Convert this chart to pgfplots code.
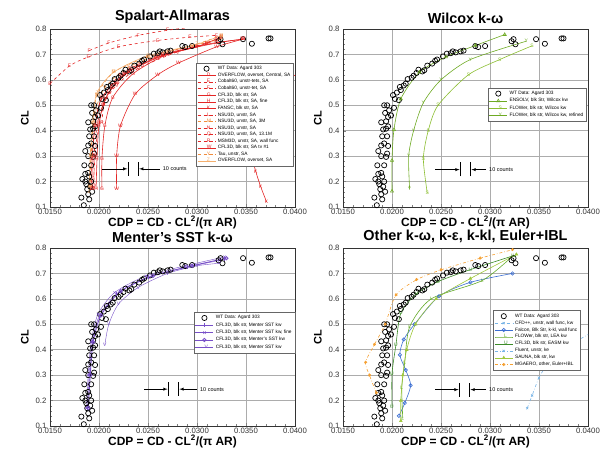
\documentclass[border=0pt]{standalone}
\usepackage{fontspec}
\setmainfont{Liberation Sans}
\usepackage{pgfplots}
\pgfplotsset{compat=1.18}
\usepackage{pgfplotstable}

\definecolor{sared}{RGB}{228,38,38}
\definecolor{saorange}{RGB}{240,140,60}
\definecolor{salight}{RGB}{245,175,110}
\definecolor{wgreen}{RGB}{110,170,35}
\definecolor{wgreenb}{RGB}{140,190,50}
\definecolor{sstpurple}{RGB}{120,80,200}
\definecolor{oblue}{RGB}{60,110,210}
\definecolor{olight}{RGB}{120,180,230}
\definecolor{ogreen}{RGB}{100,170,40}
\definecolor{ogreend}{RGB}{60,140,40}
\definecolor{ogreenl}{RGB}{160,200,60}
\definecolor{oorange}{RGB}{245,160,50}

\pgfplotstableread{
x y
0.01845 0.107
0.0182 0.137
0.0190 0.130
0.0189 0.150
0.0188 0.170
0.0191 0.180
0.0193 0.160
0.0183 0.210
0.0186 0.200
0.0187 0.190
0.0189 0.234
0.0192 0.200
0.0186 0.230
0.0190 0.220
0.0185 0.264
0.0192 0.264
0.0194 0.297
0.0189 0.300
0.0195 0.310
0.0186 0.320
0.0189 0.342
0.0192 0.350
0.0196 0.340
0.0190 0.378
0.0195 0.378
0.0191 0.405
0.0194 0.408
0.0196 0.417
0.0189 0.433
0.0194 0.437
0.0196 0.454
0.0193 0.470
0.0197 0.480
0.0192 0.500
0.0195 0.500
0.0199 0.460
0.0202 0.490
0.0203 0.525
0.0201 0.540
0.0207 0.520
0.0205 0.550
0.0209 0.560
0.0208 0.572
0.0212 0.578
0.0214 0.585
0.0216 0.603
0.0220 0.608
0.0222 0.616
0.0225 0.627
0.0227 0.640
0.0231 0.633
0.0233 0.638
0.0236 0.656
0.0241 0.664
0.0244 0.675
0.0246 0.680
0.0252 0.692
0.0256 0.703
0.0260 0.705
0.0262 0.712
0.0265 0.708
0.0270 0.712
0.0273 0.715
0.0285 0.733
0.0288 0.729
0.0295 0.733
0.0322 0.752
0.0324 0.760
0.0326 0.740
0.0347 0.760
0.0356 0.742
0.0373 0.763
0.0375 0.763
}\wtdata

\pgfplotsset{
 panel/.style={
  scale only axis, width=245bp, height=178bp,
  xmin=0.015, xmax=0.04, ymin=0.1, ymax=0.8,
  scaled x ticks=false, scaled y ticks=false,
  xtick={0.015,0.02,0.025,0.03,0.035,0.04},
  xticklabels={0.0150,0.0200,0.0250,0.0300,0.0350,0.0400},
  ytick={0.1,0.2,0.3,0.4,0.5,0.6,0.7,0.8},
  yticklabels={0.1,0.2,0.3,0.4,0.5,0.6,0.7,0.8},
  grid=major, major grid style={gray!65, line width=0.45pt},
  minor x tick num=4, minor y tick num=4,
  tick align=inside, xtick pos=left, ytick pos=left,
  major tick length=3bp, minor tick length=1.8bp,
  tick label style={font=\fontsize{7.8}{8}\selectfont, text=black!80},
  xticklabel style={yshift=1.5bp},
  title style={font=\bfseries\fontsize{14.5}{15}\selectfont, yshift=-4bp},
  xlabel={CDP = CD - CL\textsuperscript{2}/(π AR)},
  ylabel={CL},
  xlabel style={font=\bfseries\fontsize{12}{13}\selectfont, yshift=5bp},
  ylabel style={font=\bfseries\fontsize{11}{12}\selectfont},
  axis line style={black!80},
  legend cell align=left,
  legend style={font=\fontsize{4.8}{5}\selectfont, draw=black!60, fill=white, inner sep=1.2bp, row sep=-1.6bp},
  legend image code/.code={\draw[mark repeat=2,mark phase=2] plot coordinates {(0bp,0bp)(9bp,0bp)(18bp,0bp)};},
 },
 wt/.style={only marks, mark=o, mark size=2.6bp, black, line width=0.7bp},
 tm/.style={mark=text, text mark={#1}, text mark as node=true, text mark style={font=\fontsize{5}{5}\selectfont, inner sep=0pt}},
 cv/.style={line width=0.6bp, smooth, tension=0.45},
}

\begin{document}
\begin{tikzpicture}
\path[use as bounding box] (0,0) rectangle (608bp,452bp);

% ---------------- Spalart-Allmaras
\begin{axis}[panel, at={(50bp,245bp)}, anchor=south west, title={Spalart-Allmaras},
  legend style={at={(0.995,0.81)}, anchor=north east, row sep=-2.3bp}]
\addplot[wt] table {\wtdata}; \addlegendentry{WT Data: Agard 303}
\addplot[cv, sared, tm=D] coordinates {(0.0193,0.17)(0.0193,0.29)(0.0196,0.42)(0.0203,0.53)(0.0225,0.62)(0.0260,0.69)(0.0300,0.73)(0.0325,0.77)};
\addlegendentry{OVERFLOW, overset, Central, SA}
\addplot[cv, sared, dashed, tm=E] coordinates {(0.0150,0.585)(0.0170,0.655)(0.0189,0.69)(0.0220,0.73)(0.0260,0.755)(0.0293,0.768)(0.0320,0.775)};
\addlegendentry{Cobalt60, unstr-tets, SA}
\addplot[cv, sared, dashed, tm=F] coordinates {(0.0190,0.715)(0.0210,0.745)(0.0240,0.775)(0.0270,0.795)(0.0290,0.805)};
\addlegendentry{Cobalt60, unstr-tet, SA}
\addplot[cv, sared, tm=G] coordinates {(0.0203,0.17)(0.0203,0.29)(0.0206,0.42)(0.0214,0.53)(0.0235,0.625)(0.0270,0.70)(0.0320,0.745)(0.0347,0.76)};
\addlegendentry{CFL3D, blk str, SA}
\addplot[cv, sared, tm=H] coordinates {(0.0197,0.17)(0.0198,0.29)(0.0200,0.42)(0.0207,0.53)(0.0228,0.625)(0.0265,0.695)(0.0310,0.74)(0.0347,0.76)};
\addlegendentry{CFL3D, blk str, SA, fine}
\addplot[cv, sared, tm=K] coordinates {(0.0371,0.12)(0.0365,0.18)(0.0360,0.24)(0.0357,0.30)(0.0362,0.45)(0.0378,0.56)(0.0405,0.63)};
\addlegendentry{FANSC, blk str, SA}
\addplot[cv, sared, dashed, tm=L] coordinates {(0.0192,0.17)(0.0193,0.29)(0.0196,0.42)(0.0202,0.52)(0.0222,0.62)(0.0258,0.69)(0.0300,0.735)(0.0325,0.765)};
\addlegendentry{NSU3D, unstr, SA}
\addplot[cv, saorange, dashed, tm=M] coordinates {(0.0191,0.18)(0.0192,0.30)(0.0194,0.43)(0.0198,0.54)(0.0215,0.63)(0.0250,0.69)(0.0295,0.735)(0.0325,0.775)};
\addlegendentry{NSU3D, unstr, SA, 3M}
\addplot[cv, sared, dashed, tm=N] coordinates {(0.0194,0.17)(0.0196,0.30)(0.0200,0.43)(0.0210,0.55)(0.0230,0.63)(0.0265,0.695)(0.0310,0.74)};
\addlegendentry{NSU3D, unstr, SA}
\addplot[cv, sared, dashed, tm=Q] coordinates {(0.0195,0.18)(0.0195,0.30)(0.0198,0.42)(0.0204,0.50)(0.0218,0.58)(0.0240,0.645)(0.0280,0.71)(0.0320,0.755)};
\addlegendentry{NSU3D, unstr, SA, 13.1M}
\addplot[cv, sared, dashed, tm=R] coordinates {(0.0203,0.43)(0.0205,0.50)(0.0213,0.57)(0.0232,0.645)(0.0265,0.70)(0.0310,0.74)};
\addlegendentry{MSM3D, unstr, SA, wall func}
\addplot[cv, sared, tm=W] coordinates {(0.0218,0.17)(0.0218,0.30)(0.0222,0.42)(0.0237,0.544)(0.0260,0.62)(0.0281,0.666)(0.0320,0.73)(0.0347,0.76)};
\addlegendentry{CFL3D, blk str, SA tv \#1}
\addplot[cv, saorange, dashed, tm=Y] coordinates {(0.0191,0.20)(0.0192,0.32)(0.0196,0.47)(0.0206,0.57)(0.0230,0.65)(0.0270,0.71)(0.0325,0.76)};
\addlegendentry{Tau, unstr, SA}
\addplot[cv, salight, tm=Z] coordinates {(0.0190,0.16)(0.0191,0.30)(0.0194,0.45)(0.0198,0.55)(0.0215,0.63)(0.0250,0.695)(0.0300,0.74)(0.0325,0.775)};
\addlegendentry{OVERFLOW, overset, SA}
\draw[black, line width=0.5bp] (axis cs:0.0230,0.222) -- (axis cs:0.0230,0.278) (axis cs:0.0240,0.222) -- (axis cs:0.0240,0.278);
\draw[-latex, line width=0.5bp] (axis cs:0.0203,0.25) -- (axis cs:0.0229,0.25);
\draw[-latex, line width=0.5bp] (axis cs:0.0262,0.25) -- (axis cs:0.0241,0.25);
\node[anchor=west, font=\fontsize{5.5}{6}\selectfont, inner sep=1bp] at (axis cs:0.0264,0.25) {10 counts};
\end{axis}

% ---------------- Wilcox
\begin{axis}[panel, at={(343bp,245bp)}, anchor=south west, title={Wilcox k-ω},
  legend style={at={(0.995,0.67)}, anchor=north east}]
\addplot[wt] table {\wtdata}; \addlegendentry{WT Data: Agard 303}
\addplot[cv, wgreen, mark=triangle, mark size=1.8bp] coordinates {(0.0200,0.162)(0.0200,0.283)(0.0202,0.404)(0.0209,0.525)(0.0228,0.63)(0.0255,0.69)(0.0285,0.735)(0.0315,0.778)};
\addlegendentry{ENSOLV, blk Str, Wilcox kw}
\addplot[cv, wgreenb, tm=S] coordinates {(0.0236,0.155)(0.0232,0.29)(0.0237,0.40)(0.0247,0.50)(0.0278,0.62)(0.0310,0.68)(0.0343,0.734)};
\addlegendentry{FLOWer, blk str, Wilcox kw}
\addplot[cv, wgreen, tm=Y] coordinates {(0.0218,0.17)(0.0217,0.30)(0.0222,0.40)(0.0232,0.51)(0.0250,0.60)(0.0280,0.68)(0.0337,0.752)};
\addlegendentry{FLOWer, blk str, Wilcox kw, refined}
\draw[black, line width=0.5bp] (axis cs:0.0270,0.22) -- (axis cs:0.0270,0.275) (axis cs:0.0280,0.22) -- (axis cs:0.0280,0.275);
\draw[-latex, line width=0.5bp] (axis cs:0.0244,0.247) -- (axis cs:0.0269,0.247);
\draw[-latex, line width=0.5bp] (axis cs:0.0296,0.247) -- (axis cs:0.0281,0.247);
\node[anchor=west, font=\fontsize{5.5}{6}\selectfont, inner sep=1bp] at (axis cs:0.0298,0.247) {10 counts};
\end{axis}

% ---------------- Menter SST
\begin{axis}[panel, at={(50bp,26bp)}, anchor=south west, title={Menter's SST k-ω},
  legend style={at={(1.0,0.64)}, anchor=north east}]
\addplot[wt] table {\wtdata}; \addlegendentry{WT Data: Agard 303}
\addplot[cv, sstpurple, line width=0.4bp, mark=|, mark size=2bp] coordinates {(0.0188,0.17)(0.0190,0.30)(0.0193,0.43)(0.0200,0.53)(0.0218,0.62)(0.0250,0.685)(0.0290,0.725)(0.0328,0.755)};
\addlegendentry{CFL3D, blk str, Menter SST kw}
\addplot[cv, sstpurple, line width=0.4bp, mark=x, mark size=1.8bp] coordinates {(0.0187,0.17)(0.0189,0.30)(0.0192,0.43)(0.0199,0.54)(0.0216,0.625)(0.0248,0.69)(0.0288,0.73)(0.0328,0.765)};
\addlegendentry{CFL3D, blk str, Menter SST kw, fine}
\addplot[cv, sstpurple, line width=0.9bp, mark=o, mark size=1.6bp] coordinates {(0.0189,0.17)(0.0191,0.30)(0.0194,0.43)(0.0202,0.535)(0.0222,0.63)(0.0255,0.69)(0.0295,0.73)(0.0330,0.76)};
\addlegendentry{CFL3D, blk str, Menter's SST kw}
\addplot[cv, sstpurple, line width=0.4bp, tm=V] coordinates {(0.0206,0.42)(0.0210,0.50)(0.0220,0.58)(0.0240,0.645)(0.0270,0.70)(0.0300,0.73)(0.0323,0.74)};
\addlegendentry{CFL3D, blk str, Menter SST kw}
\draw[black, line width=0.5bp] (axis cs:0.0271,0.218) -- (axis cs:0.0271,0.272) (axis cs:0.0281,0.218) -- (axis cs:0.0281,0.272);
\draw[-latex, line width=0.5bp] (axis cs:0.0246,0.245) -- (axis cs:0.0270,0.245);
\draw[-latex, line width=0.5bp] (axis cs:0.0300,0.245) -- (axis cs:0.0282,0.245);
\node[anchor=west, font=\fontsize{5.5}{6}\selectfont, inner sep=1bp] at (axis cs:0.0302,0.245) {10 counts};
\end{axis}

% ---------------- Other
\begin{axis}[panel, at={(343bp,26bp)}, anchor=south west, title={Other k-ω, k-ε, k-kl, Euler+IBL},
  legend style={at={(0.97,0.65)}, anchor=north east, row sep=-2bp}]
\addplot[wt] table {\wtdata}; \addlegendentry{WT Data: Agard 303}
\addlegendimage{olight, dashed, line width=0.6bp, mark=x, mark size=1.6bp}
\addlegendentry{CFD++, unstr, wall func, kw}
\addplot[cv, oblue, mark=o, mark size=1.7bp] coordinates {(0.0207,0.14)(0.0213,0.19)(0.0219,0.26)(0.0214,0.32)(0.0208,0.38)(0.0212,0.44)(0.0223,0.50)(0.0248,0.61)(0.0280,0.665)(0.0323,0.70)};
\addlegendentry{Falcon, Blk Str, k-kl, wall func}
\addplot[cv, ogreen, tm=L] coordinates {(0.0211,0.13)(0.0210,0.25)(0.0213,0.35)(0.0218,0.49)(0.0240,0.60)(0.0292,0.672)(0.0323,0.768)};
\addlegendentry{FLOWer, blk str, LEA kw}
\addplot[cv, ogreend, tm=U] coordinates {(0.0200,0.176)(0.0200,0.305)(0.0204,0.419)(0.0209,0.544)(0.0225,0.62)(0.0247,0.668)(0.0280,0.715)(0.0325,0.771)};
\addlegendentry{CFL3D, blk str, EASM kw}
\addplot[cv, olight, dashdotted, mark=x, mark size=1.6bp] coordinates {(0.0338,0.17)(0.0343,0.22)(0.0350,0.29)(0.0360,0.35)(0.0378,0.41)(0.0405,0.47)};
\addlegendentry{Fluent, unstr, ke}
\addplot[cv, ogreenl, mark=triangle*, mark size=1.5bp] coordinates {(0.0209,0.12)(0.0209,0.20)(0.0211,0.30)(0.0215,0.40)(0.0224,0.50)(0.0245,0.60)(0.0280,0.68)(0.0327,0.775)};
\addlegendentry{SAUNA, blk str, kw}
\addplot[cv, oorange, dashdotted, mark=*, mark size=1.4bp] coordinates {(0.0184,0.23)(0.0177,0.30)(0.0173,0.35)(0.0182,0.42)(0.0193,0.50)(0.0204,0.615)(0.0225,0.675)(0.0250,0.714)(0.0290,0.76)(0.0323,0.793)};
\addlegendentry{MGAERO, other, Euler+IBL}
\draw[black, line width=0.5bp] (axis cs:0.0269,0.216) -- (axis cs:0.0269,0.27) (axis cs:0.0279,0.216) -- (axis cs:0.0279,0.27);
\draw[-latex, line width=0.5bp] (axis cs:0.0244,0.243) -- (axis cs:0.0268,0.243);
\draw[-latex, line width=0.5bp] (axis cs:0.0296,0.243) -- (axis cs:0.0280,0.243);
\node[anchor=west, font=\fontsize{5.5}{6}\selectfont, inner sep=1bp] at (axis cs:0.0298,0.243) {10 counts};
\end{axis}
\end{tikzpicture}
\end{document}
